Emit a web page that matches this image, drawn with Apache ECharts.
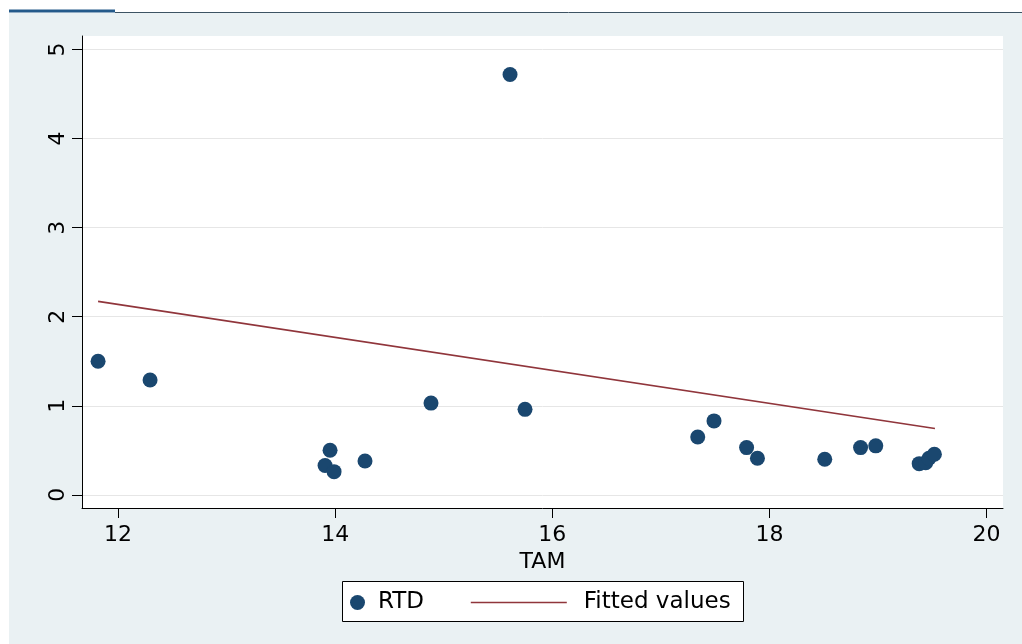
<!DOCTYPE html>
<html>
<head>
<meta charset="utf-8">
<script src="https://cdn.jsdelivr.net/npm/echarts@6/dist/echarts.min.js"></script>
<style>
html,body{margin:0;padding:0;background:#fff;}
#c{width:1022px;height:644px;}
</style>
</head>
<body>
<div id="c"></div>
<script>
// Data
const tam = [11.816, 12.295, 13.907, 13.953, 13.99, 14.275, 14.883, 15.611, 15.749, 17.34, 17.49, 17.79, 17.89, 18.51, 18.84, 18.98, 19.38, 19.44, 19.47, 19.52];
const rtd = [1.50, 1.29, 0.33, 0.50, 0.26, 0.38, 1.03, 4.72, 0.96, 0.65, 0.83, 0.53, 0.41, 0.40, 0.53, 0.55, 0.35, 0.36, 0.41, 0.455];
const fitX = [11.816, 19.525];
const fitY = [2.172, 0.745];
const xTicks = [12, 14, 16, 18, 20];
const yTicks = [0, 1, 2, 3, 4, 5];
const xName = 'TAM';
const seriesNames = ['RTD', 'Fitted values'];

const FONT = 'DejaVu Sans';
const chart = echarts.init(document.getElementById('c'), null, {renderer: 'canvas'});
const scatterData = tam.map((x, i) => [x, rtd[i]]);
const fitData = fitX.map((x, i) => [x, fitY[i]]);

chart.setOption({
  backgroundColor: '#ffffff',
  animation: false,
  textStyle: {fontFamily: FONT},
  graphic: [
    {type: 'rect', z: -100, shape: {x: 9, y: 13, width: 1013, height: 631}, style: {fill: '#eaf1f3'}},
    {type: 'rect', z: -99, shape: {x: 9, y: 9.5, width: 106, height: 3}, style: {fill: '#245a8a'}},
    {type: 'line', z: -99, shape: {x1: 115, y1: 12.5, x2: 1022, y2: 12.5}, style: {stroke: '#3d5363', lineWidth: 1}},
    {type: 'rect', z: 1, shape: {x: 342.5, y: 581.5, width: 401, height: 40}, style: {fill: '#ffffff', stroke: '#000000', lineWidth: 1}}
  ],
  grid: {
    left: 82, right: 19, top: 36, bottom: 136,
    show: true, backgroundColor: '#ffffff', borderWidth: 0
  },
  legend: [
    {
      data: [seriesNames[0]], left: 350, top: 591, padding: 0,
      itemWidth: 15, itemHeight: 15,
      textStyle: {fontFamily: FONT, fontSize: 23, color: '#000', padding: [0, 0, 0, 8]},
      z: 5
    },
    {
      data: [seriesNames[1]], left: 470, top: 591, padding: 0,
      itemWidth: 96, itemHeight: 15,
      itemStyle: {opacity: 0},
      lineStyle: {color: '#90353b', width: 1.6, opacity: 1},
      textStyle: {fontFamily: FONT, fontSize: 23, color: '#000', padding: [0, 0, 0, 12]},
      z: 5
    }
  ],
  xAxis: {
    type: 'value', min: 11.668, max: 20.152,
    name: xName, nameLocation: 'middle', nameGap: 24,
    nameTextStyle: {fontFamily: FONT, fontSize: 22, color: '#000'},
    axisLine: {show: true, onZero: false, lineStyle: {color: '#000', width: 1}},
    axisTick: {show: true, length: 10, customValues: xTicks, lineStyle: {color: '#000'}},
    axisLabel: {customValues: xTicks, fontFamily: FONT, fontSize: 22, color: '#000', margin: 16},
    splitLine: {show: false}
  },
  yAxis: {
    type: 'value', min: -0.148, max: 5.152,
    axisLine: {show: true, onZero: false, lineStyle: {color: '#000', width: 1}},
    axisTick: {show: true, length: 10, customValues: yTicks, lineStyle: {color: '#000'}},
    axisLabel: {customValues: yTicks, rotate: 90, fontFamily: FONT, fontSize: 22, color: '#000', margin: 13},
    splitLine: {show: true, lineStyle: {color: '#e6e6e6', width: 1}}
  },
  series: [
    {
      name: seriesNames[0], type: 'scatter', data: scatterData,
      symbol: 'circle', symbolSize: 15,
      itemStyle: {color: '#1a476f', opacity: 1}, z: 3
    },
    {
      name: seriesNames[1], type: 'line', data: fitData,
      symbol: 'none', showSymbol: false,
      lineStyle: {color: '#90353b', width: 1.6},
      itemStyle: {color: '#90353b'}, z: 2
    }
  ]
});
</script>
</body>
</html>
